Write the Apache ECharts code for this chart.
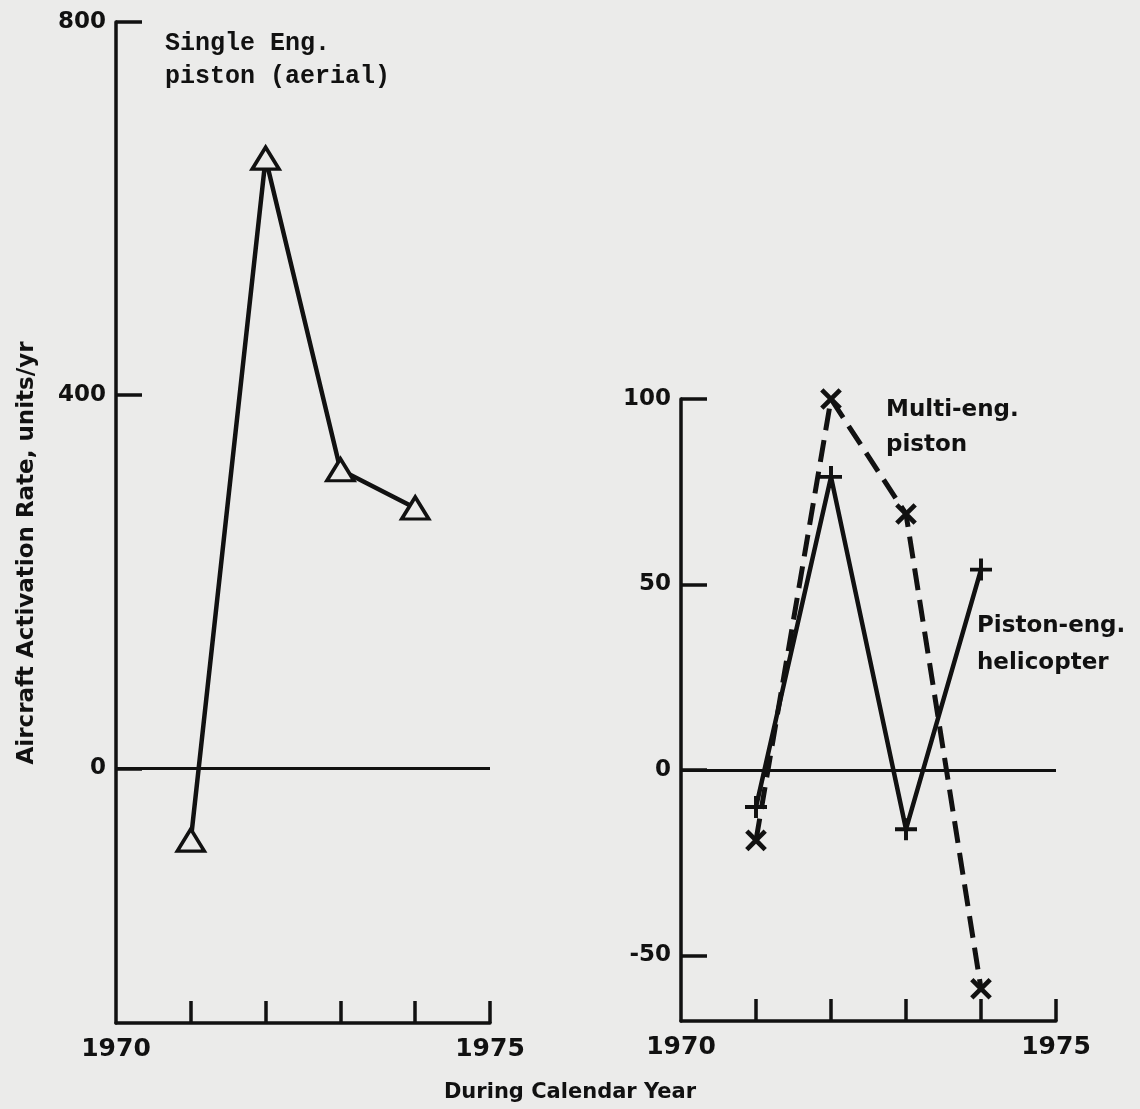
<!DOCTYPE html>
<html>
<head>
<meta charset="utf-8">
<script src="https://cdn.jsdelivr.net/npm/echarts@6/dist/echarts.min.js"></script>
<style>
html,body{margin:0;padding:0;background:#ebebea;}
#c{width:1140px;height:1109px;}
</style>
</head>
<body>
<div id="c"></div>
<script>
// ---- data ----
const years = [1971, 1972, 1973, 1974];
const singleEngPiston = [-77, 654, 320, 279];
const multiEngPiston = [-19, 100, 69, -59];
const pistonHelicopter = [-10, 79, -16, 54];
const xTickYears = [1971, 1972, 1973, 1974, 1975];
const xLabelYears = [1970, 1975];
const leftYTicks = [0, 400, 800];
const rightYTicks = [-50, 0, 50, 100];

const INK = '#111';
const BG = '#ebebea';
const LEROY = '"DejaVu Sans", sans-serif';
const plusPath = 'path://M4.1,0H5.9V4.1H10V5.9H5.9V10H4.1V5.9H0V4.1H4.1Z';

const pairs = (v) => years.map((y, i) => [y, v[i]]);

function xAxisCfg(gi) {
  return {
    type: 'value', gridIndex: gi, min: 1970, max: 1975,
    axisLine: { show: true, onZero: false, lineStyle: { color: INK, width: 3.5 } },
    axisTick: { show: true, inside: true, length: 22, customValues: xTickYears, lineStyle: { color: INK, width: 3.5 } },
    axisLabel: { customValues: xLabelYears, formatter: (v) => String(v), color: INK, fontSize: 25, fontWeight: 'bold', fontFamily: LEROY, margin: 14 },
    splitLine: { show: false }
  };
}
function yAxisCfg(gi, min, max, ticks) {
  return {
    type: 'value', gridIndex: gi, min: min, max: max,
    axisLine: { show: true, lineStyle: { color: INK, width: 3.5 } },
    axisTick: { show: true, inside: true, length: 26, customValues: ticks, lineStyle: { color: INK, width: 3.5 } },
    axisLabel: { customValues: ticks, color: INK, fontSize: 23, fontWeight: 'bold', fontFamily: LEROY, margin: 10 },
    splitLine: { show: false }
  };
}
const zeroLine = {
  silent: true, symbol: 'none', label: { show: false },
  lineStyle: { color: INK, width: 3, type: 'solid' },
  data: [{ yAxis: 0 }]
};

const chart = echarts.init(document.getElementById('c'));
chart.setOption({
  backgroundColor: BG,
  animation: false,
  grid: [
    { left: 116, top: 22, width: 374, height: 1001 },
    { left: 681, top: 399, width: 375, height: 622 }
  ],
  xAxis: [xAxisCfg(0), xAxisCfg(1)],
  yAxis: [yAxisCfg(0, -273, 800, leftYTicks), yAxisCfg(1, -67.7, 100, rightYTicks)],
  series: [
    {
      name: 'Single Eng. piston (aerial)', type: 'line', xAxisIndex: 0, yAxisIndex: 0,
      data: pairs(singleEngPiston),
      symbol: 'triangle', symbolSize: [27, 22],
      lineStyle: { color: INK, width: 4.5 },
      itemStyle: { color: BG, borderColor: INK, borderWidth: 3.5 },
      markLine: zeroLine
    },
    {
      name: 'Multi-eng. piston', type: 'line', xAxisIndex: 1, yAxisIndex: 1,
      data: pairs(multiEngPiston),
      symbol: plusPath, symbolSize: 26, symbolRotate: 45,
      lineStyle: { color: INK, width: 5, type: [22, 10] },
      itemStyle: { color: INK },
      markLine: zeroLine, z: 3
    },
    {
      name: 'Piston-eng. helicopter', type: 'line', xAxisIndex: 1, yAxisIndex: 1,
      data: pairs(pistonHelicopter),
      symbol: plusPath, symbolSize: 22,
      lineStyle: { color: INK, width: 4.5 },
      itemStyle: { color: INK }, z: 3
    }
  ],
  graphic: [
    { type: 'text', left: 165, top: 27, style: { text: 'Single Eng.\npiston (aerial)', font: 'bold 25px "Liberation Mono", monospace', fill: INK, lineHeight: 33 } },
    { type: 'text', left: 886, top: 393, style: { text: 'Multi-eng.\npiston', font: 'bold 23px ' + LEROY, fill: INK, lineHeight: 35 } },
    { type: 'text', left: 977, top: 608, style: { text: 'Piston-eng.\nhelicopter', font: 'bold 23px ' + LEROY, fill: INK, lineHeight: 37 } },
    { type: 'text', x: 570, y: 1093, style: { text: 'During Calendar Year', font: 'bold 21px ' + LEROY, fill: INK, align: 'center', verticalAlign: 'middle' } },
    { type: 'text', x: 27, y: 553, rotation: Math.PI / 2, style: { text: 'Aircraft Activation Rate, units/yr', font: 'bold 23px ' + LEROY, fill: INK, align: 'center', verticalAlign: 'middle' } }
  ]
});
</script>
</body>
</html>
